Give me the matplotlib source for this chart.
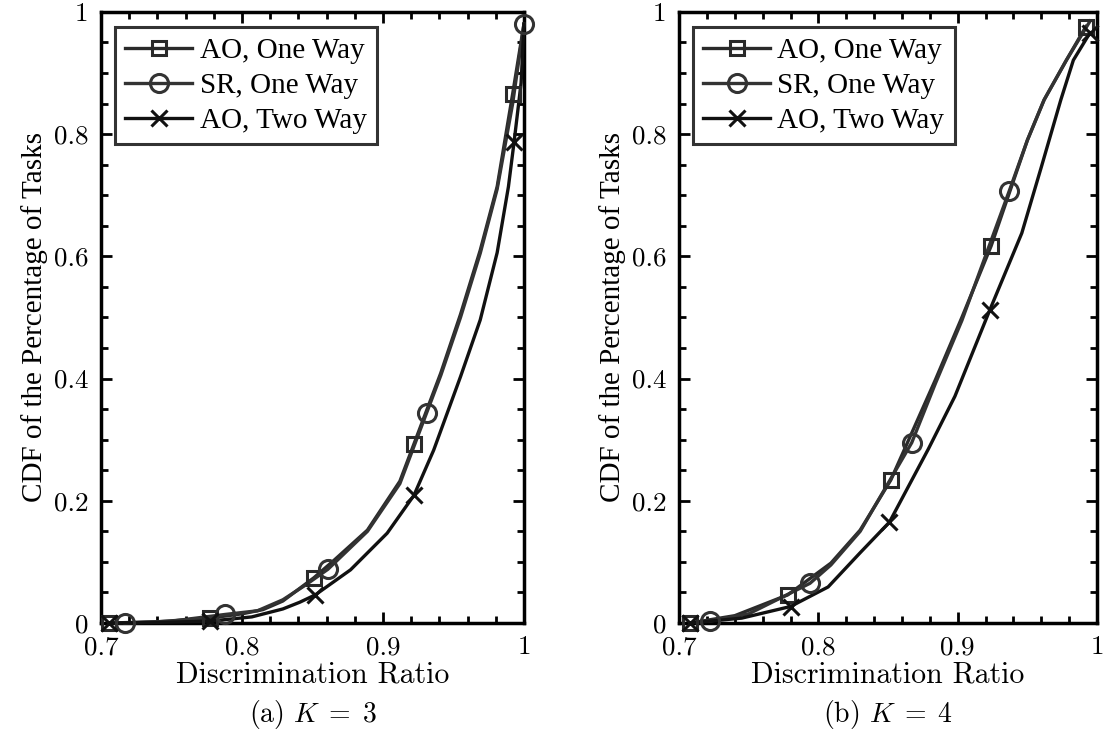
import matplotlib
matplotlib.use("Agg")
import matplotlib.pyplot as plt
from matplotlib.ticker import MultipleLocator
from matplotlib.lines import Line2D

plt.rcParams["mathtext.fontset"] = "cm"
plt.rcParams["axes.formatter.use_mathtext"] = True

# ---- K = 3 ----
ao1_x3 = [0.706, 0.740, 0.777, 0.800, 0.815, 0.829, 0.851, 0.865, 0.889, 0.912, 0.922, 0.941, 0.955, 0.969, 0.981, 0.992, 1.000]
ao1_y3 = [0.000, 0.002, 0.008, 0.015, 0.022, 0.036, 0.074, 0.102, 0.152, 0.232, 0.293, 0.409, 0.505, 0.610, 0.714, 0.866, 0.980]
ao1_mx3 = [0.706, 0.777, 0.851, 0.922, 0.992]
ao1_my3 = [0.000, 0.008, 0.074, 0.293, 0.866]

sr1_x3 = [0.717, 0.750, 0.788, 0.811, 0.829, 0.845, 0.861, 0.889, 0.912, 0.931, 0.941, 0.955, 0.969, 0.981, 0.992, 1.000]
sr1_y3 = [0.000, 0.003, 0.014, 0.020, 0.038, 0.062, 0.088, 0.150, 0.228, 0.344, 0.405, 0.500, 0.605, 0.710, 0.850, 0.980]
sr1_mx3 = [0.717, 0.788, 0.861, 0.931, 1.000]
sr1_my3 = [0.000, 0.014, 0.088, 0.344, 0.980]

ao2_x3 = [0.706, 0.740, 0.777, 0.807, 0.829, 0.841, 0.852, 0.877, 0.903, 0.922, 0.936, 0.955, 0.969, 0.981, 0.989, 0.993, 0.998, 1.000]
ao2_y3 = [0.000, 0.001, 0.003, 0.010, 0.023, 0.034, 0.046, 0.087, 0.147, 0.209, 0.283, 0.403, 0.496, 0.606, 0.714, 0.787, 0.884, 0.980]
ao2_mx3 = [0.706, 0.777, 0.852, 0.922, 0.993]
ao2_my3 = [0.000, 0.003, 0.046, 0.209, 0.787]

# ---- K = 4 ----
ao1_x4 = [0.708, 0.740, 0.778, 0.809, 0.830, 0.852, 0.884, 0.903, 0.924, 0.950, 0.962, 0.978, 0.992]
ao1_y4 = [0.000, 0.012, 0.046, 0.098, 0.152, 0.234, 0.398, 0.500, 0.617, 0.790, 0.856, 0.921, 0.976]
ao1_mx4 = [0.708, 0.778, 0.852, 0.924, 0.992]
ao1_my4 = [0.000, 0.046, 0.234, 0.617, 0.976]

sr1_x4 = [0.722, 0.750, 0.794, 0.809, 0.830, 0.867, 0.884, 0.903, 0.937, 0.950, 0.962, 0.978, 0.995]
sr1_y4 = [0.003, 0.015, 0.065, 0.095, 0.150, 0.295, 0.392, 0.495, 0.707, 0.790, 0.856, 0.921, 0.985]
sr1_mx4 = [0.722, 0.794, 0.867, 0.937]
sr1_my4 = [0.003, 0.065, 0.295, 0.707]

ao2_x4 = [0.708, 0.745, 0.780, 0.807, 0.830, 0.851, 0.879, 0.898, 0.923, 0.946, 0.960, 0.974, 0.983, 0.995]
ao2_y4 = [0.000, 0.008, 0.027, 0.059, 0.115, 0.165, 0.285, 0.371, 0.512, 0.638, 0.746, 0.856, 0.921, 0.966]
ao2_mx4 = [0.708, 0.780, 0.851, 0.923, 0.995]
ao2_my4 = [0.000, 0.027, 0.165, 0.512, 0.966]

labels = ["AO, One Way", "SR, One Way", "AO, Two Way"]
markers = ["s", "o", "x"]
xticks = [0.7, 0.8, 0.9, 1.0]
xtick_labels = ["0.7", "0.8", "0.9", "1"]
yticks = [0, 0.2, 0.4, 0.6, 0.8, 1.0]
ytick_labels = ["0", "0.2", "0.4", "0.6", "0.8", "1"]

panels = [
    ("(a) $K\\;=\\;3$",
     [(ao1_x3, ao1_y3, ao1_mx3, ao1_my3), (sr1_x3, sr1_y3, sr1_mx3, sr1_my3), (ao2_x3, ao2_y3, ao2_mx3, ao2_my3)]),
    ("(b) $K\\;=\\;4$",
     [(ao1_x4, ao1_y4, ao1_mx4, ao1_my4), (sr1_x4, sr1_y4, sr1_mx4, sr1_my4), (ao2_x4, ao2_y4, ao2_mx4, ao2_my4)]),
]

colors = ["#2a2a2a", "#333333", "#111111"]
msizes = [10, 13, 11]

fig = plt.figure(figsize=(11.07, 7.48), dpi=100)
boxes = [(0.0912, 0.3821), (0.6134, 0.3776)]
cm = "cmr10"
serif = ["Liberation Serif", "DejaVu Serif"]

for (left, width), (caption, series) in zip(boxes, panels):
    ax = fig.add_axes([left, 0.1671, width, 0.817])
    handles = []
    for (x, y, mx, my), mk, c, ms, lab in zip(series, markers, colors, msizes, labels):
        ax.plot(x, y, "-", color=c, lw=2.4, clip_on=False, zorder=3)
        ax.plot(mx, my, linestyle="none", marker=mk, ms=ms, mfc="none", mec=c,
                mew=2.2, clip_on=False, zorder=4)
        handles.append(Line2D([], [], color=c, lw=2.4, marker=mk, ms=ms, mfc="none", mec=c, mew=2.2))
    ax.set_xlim(0.7, 1.0)
    ax.set_ylim(0, 1)
    ax.set_xticks(xticks)
    ax.set_xticklabels(xtick_labels, fontfamily=cm, fontsize=19.5)
    ax.set_yticks(yticks)
    ax.set_yticklabels(ytick_labels, fontfamily=cm, fontsize=19.5)
    ax.xaxis.set_minor_locator(MultipleLocator(0.02))
    ax.yaxis.set_minor_locator(MultipleLocator(0.05))
    ax.tick_params(which="both", direction="in", top=True, right=True, width=2)
    ax.tick_params(which="major", length=8)
    ax.tick_params(axis="x", which="major", pad=9)
    ax.tick_params(axis="y", which="major", pad=9)
    ax.tick_params(which="minor", length=5)
    for sp in ax.spines.values():
        sp.set_linewidth(2.5)
    ax.set_xlabel("Discrimination Ratio", fontfamily=cm, fontsize=21.5, labelpad=1)
    ax.set_ylabel("CDF of the Percentage of Tasks", fontfamily=serif, fontsize=21, labelpad=4)
    leg = ax.legend(handles, labels, loc="upper left", bbox_to_anchor=(0.033, 0.975),
                    prop={"family": serif, "size": 21}, frameon=True, fancybox=False,
                    handlelength=2.3, handletextpad=0.25, borderpad=0.35, labelspacing=0.3,
                    borderaxespad=0)
    leg.get_frame().set_edgecolor("black")
    leg.get_frame().set_linewidth(2.2)
    fig.text(left + width / 2, 0.035, caption, ha="center", fontfamily=cm, fontsize=20)

fig.savefig("out.png", dpi=100)
